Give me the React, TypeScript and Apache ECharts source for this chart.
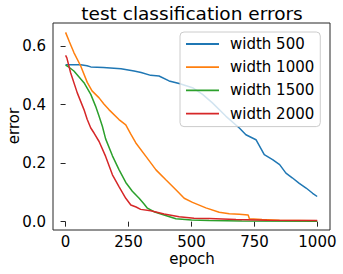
import React, { useEffect, useRef } from "react";
import * as echarts from "echarts";

const seriesNames = ["width 500", "width 1000", "width 1500", "width 2000"];
const colors = ["#1f77b4", "#ff7f0e", "#2ca02c", "#d62728"];

const epochs500 = [0, 60, 85, 100, 150, 220, 272, 300, 338, 371, 411, 451, 504, 544, 583, 637, 690, 716, 756, 789, 822, 850, 875, 900, 928, 955, 981, 999];
const errors500 = [0.536, 0.536, 0.533, 0.529, 0.527, 0.523, 0.515, 0.51, 0.5, 0.498, 0.481, 0.472, 0.458, 0.435, 0.406, 0.36, 0.32, 0.297, 0.28, 0.229, 0.212, 0.195, 0.166, 0.15, 0.131, 0.115, 0.097, 0.086];

const epochs1000 = [0, 15, 33, 60, 86, 105, 133, 152, 172, 212, 239, 259, 279, 319, 359, 398, 438, 471, 504, 557, 610, 650, 690, 725, 730, 780, 850, 999];
const errors1000 = [0.647, 0.615, 0.578, 0.532, 0.476, 0.447, 0.423, 0.402, 0.383, 0.349, 0.331, 0.299, 0.269, 0.223, 0.177, 0.143, 0.109, 0.08, 0.066, 0.047, 0.032, 0.027, 0.025, 0.023, 0.01, 0.007, 0.005, 0.003];

const epochs1500 = [0, 15, 33, 73, 100, 119, 133, 146, 159, 186, 212, 239, 265, 292, 310, 325, 351, 391, 438, 500, 570, 637, 700, 999];
const errors1500 = [0.535, 0.527, 0.515, 0.475, 0.435, 0.395, 0.36, 0.326, 0.283, 0.225, 0.178, 0.134, 0.104, 0.08, 0.062, 0.046, 0.034, 0.023, 0.01, 0.006, 0.004, 0.003, 0.002, 0.001];

const epochs2000 = [0, 5, 20, 46, 73, 86, 100, 113, 133, 159, 186, 212, 239, 259, 280, 298, 338, 391, 451, 510, 570, 677, 800, 999];
const errors2000 = [0.568, 0.56, 0.509, 0.441, 0.383, 0.349, 0.32, 0.303, 0.274, 0.223, 0.16, 0.12, 0.08, 0.057, 0.05, 0.042, 0.037, 0.026, 0.017, 0.012, 0.011, 0.007, 0.005, 0.004];

const xTicks = [0, 250, 500, 750, 1000];
const yTicks = [0, 0.2, 0.4, 0.6];

const titleText = "test classification errors";
const xName = "epoch";
const yName = "error";

const FONT = "DejaVu Sans";

export default function App() {
  const ref = useRef<HTMLDivElement>(null);
  useEffect(() => {
    if (!ref.current) return;
    const chart = echarts.init(ref.current, null, { renderer: "svg" });
    const allEpochs = [epochs500, epochs1000, epochs1500, epochs2000];
    const allErrors = [errors500, errors1000, errors1500, errors2000];
    chart.setOption({
      animation: false,
      backgroundColor: "#fff",
      textStyle: { fontFamily: FONT },
      graphic: [
        {
          type: "text",
          x: 192,
          y: 13,
          style: {
            text: titleText,
            fontFamily: FONT,
            fontSize: 18.5,
            fill: "#000",
            textAlign: "center",
            textVerticalAlign: "middle",
          },
        },
        {
          type: "text",
          x: 192,
          y: 259,
          style: {
            text: xName,
            fontFamily: FONT,
            fontSize: 15,
            fill: "#000",
            textAlign: "center",
            textVerticalAlign: "middle",
          },
        },
        {
          type: "text",
          x: 13.5,
          y: 126,
          rotation: Math.PI / 2,
          style: {
            text: yName,
            fontFamily: FONT,
            fontSize: 15,
            fill: "#000",
            textAlign: "center",
            textVerticalAlign: "middle",
          },
        },
      ],
      grid: {
        left: 53,
        top: 23,
        right: 13,
        bottom: 44,
        outerBoundsMode: "none",
        containLabel: false,
        show: true,
        borderColor: "#262626",
        borderWidth: 1,
        backgroundColor: "transparent",
      },
      legend: {
        orient: "vertical",
        left: 180,
        top: 32,
        data: seriesNames,
        icon: "rect",
        itemWidth: 33,
        itemHeight: 1.8,
        itemGap: 5.2,
        padding: [3, 6, 4, 6],
        backgroundColor: "rgba(255,255,255,0.8)",
        borderColor: "#cccccc",
        borderWidth: 1,
        borderRadius: 4,
        textStyle: {
          fontFamily: FONT,
          fontSize: 15,
          color: "#000",
          lineHeight: 18,
          padding: [0, 0, 0, 6],
        },
      },
      xAxis: {
        type: "value",
        min: -50,
        max: 1050,
        axisLine: { show: false },
        splitLine: { show: false },
        axisTick: {
          show: true,
          length: 5,
          customValues: xTicks,
          lineStyle: { color: "#262626", width: 1 },
        },
        axisLabel: {
          customValues: xTicks,
          fontFamily: FONT,
          fontSize: 15,
          color: "#000",
          margin: 4,
          formatter: (v: number) => String(v),
        },
      },
      yAxis: {
        type: "value",
        min: -0.0285,
        max: 0.679,
        axisLine: { show: false },
        splitLine: { show: false },
        axisTick: {
          show: true,
          length: 5,
          customValues: yTicks,
          lineStyle: { color: "#262626", width: 1 },
        },
        axisLabel: {
          customValues: yTicks,
          fontFamily: FONT,
          fontSize: 15,
          color: "#000",
          margin: 7,
          formatter: (v: number) => v.toFixed(1),
        },
      },
      series: seriesNames.map((name, i) => ({
        name,
        type: "line",
        showSymbol: false,
        symbol: "none",
        color: colors[i],
        lineStyle: { width: 1.5, color: colors[i] },
        data: allEpochs[i].map((e, j) => [e, allErrors[i][j]]),
        z: 2 + i,
      })),
    });
    return () => chart.dispose();
  }, []);
  return (
    <div
      ref={ref}
      style={{ position: "absolute", left: 0, top: 0, width: 343, height: 274 }}
    />
  );
}
